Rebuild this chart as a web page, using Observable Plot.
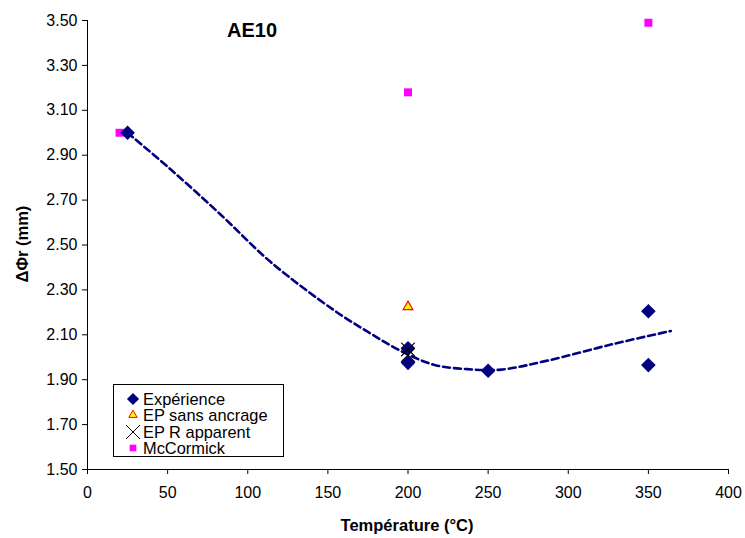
<!DOCTYPE html>
<html><head><meta charset="utf-8">
<script src="https://cdn.jsdelivr.net/npm/d3@7"></script>
<script src="https://cdn.jsdelivr.net/npm/@observablehq/plot@0.6"></script>
<style>
body{margin:0;background:#fff;font-family:"Liberation Sans",Arial,sans-serif}
#wrap{position:relative;width:745px;height:538px;overflow:hidden}
#wrap svg{display:block}
.ov{position:absolute;color:#000;white-space:nowrap}
#title{left:252px;top:30px;transform:translate(-50%,-50%);font-weight:bold;font-size:20px}
#xlab{left:407px;top:525px;transform:translate(-50%,-50%);font-weight:bold;font-size:16.5px}
#ylab{left:22px;top:244px;transform:translate(-50%,-50%) rotate(-90deg);font-weight:bold;font-size:16.5px}
#legend{left:113px;top:384px;width:169px;height:71px;border:1px solid #000;background:#fff;font-size:16.4px}
.row{position:absolute;left:0;height:16px}
.row svg{position:absolute;left:11px;top:0;display:block}
.row span{position:absolute;display:block;left:29px;top:0;height:16px;line-height:16px}
</style></head><body>
<div id="wrap"></div>
<script>
// Data
const expT = [25, 200, 200, 250, 350, 350];
const expV = [3.00, 2.04, 1.975, 1.94, 2.205, 1.965];
const epSansT = [200];
const epSansV = [2.225];
const epRT = [200, 200];
const epRV = [2.035, 2.01];
const mcT = [20, 200, 350];
const mcV = [3.00, 3.18, 3.49];
const trendT = [25, 52, 83, 114, 153.5, 175, 195, 216, 237, 258, 287, 328, 364];
const trendV = [3.00, 2.836, 2.636, 2.426, 2.211, 2.113, 2.030, 1.967, 1.947, 1.945, 1.985, 2.059, 2.117];
const xTicks = [0, 50, 100, 150, 200, 250, 300, 350, 400];
const yTicks = [1.5, 1.7, 1.9, 2.1, 2.3, 2.5, 2.7, 2.9, 3.1, 3.3, 3.5];
const seriesNames = ["Expérience", "EP sans ancrage", "EP R apparent", "McCormick"];

const zip = (a, b) => a.map((x, i) => ({x, y: b[i]}));
const exp = zip(expT, expV), epSans = zip(epSansT, epSansV), epR = zip(epRT, epRV),
      mc = zip(mcT, mcV), trend = zip(trendT, trendV);

const navy = "#000080", magenta = "#ff00ff";

const chart = Plot.plot({
  width: 745, height: 538,
  marginLeft: 87, marginRight: 17, marginTop: 20, marginBottom: 69,
  style: {fontFamily: '"Liberation Sans", Arial, sans-serif', fontSize: "16px", color: "#000", background: "#fff"},
  x: {domain: [0, 400]},
  y: {domain: [1.5, 3.5]},
  marks: [
    Plot.axisX({ticks: xTicks, tickSize: 5, tickPadding: 12, label: null, tickFormat: d3.format("d")}),
    Plot.axisY({ticks: yTicks, tickSize: 5, tickPadding: 5, label: null, tickFormat: d3.format(".2f")}),
    Plot.ruleX([0], {stroke: "#000"}),
    Plot.ruleY([1.5], {stroke: "#000"}),
    Plot.line(trend, {x: "x", y: "y", curve: "catmull-rom", stroke: navy, strokeWidth: 2.6, strokeDasharray: "7,4"}),
    Plot.dot(mc, {x: "x", y: "y", symbol: "square", fill: magenta, r: 4.5}),
    Plot.dot(exp, {x: "x", y: "y", symbol: "diamond2", fill: navy, r: 6.6}),
    Plot.dot(epSans, {x: "x", y: "y", symbol: "triangle", fill: "#ffff00", stroke: "#ff0000", strokeWidth: 1.2, r: 3.6}),
    Plot.dot(epR, {x: "x", y: "y", symbol: "times", stroke: "#000", strokeWidth: 1.1, r: 6.3})
  ]
});
const wrap = document.getElementById("wrap");
wrap.appendChild(chart);

function ov(id, text) {
  const d = document.createElement("div");
  d.className = "ov"; d.id = id; d.textContent = text;
  wrap.appendChild(d);
  return d;
}
ov("title", "AE10");
ov("xlab", "Température (°C)");
ov("ylab", "ΔΦr (mm)");

// Legend
const legend = document.createElement("div");
legend.className = "ov"; legend.id = "legend";
wrap.appendChild(legend);
const legSyms = [
  {sym: d3.symbolDiamond2, size: 95, fill: navy, stroke: "none"},
  {sym: d3.symbolTriangle, size: 30, fill: "#ffff00", stroke: "#ff0000"},
  {sym: d3.symbolTimes, size: 130, fill: "none", stroke: "#000"},
  {sym: d3.symbolSquare, size: 44, fill: magenta, stroke: "none"}
];
seriesNames.forEach((name, i) => {
  const row = document.createElement("div");
  row.className = "row";
  row.style.top = (6 + i * 16.3) + "px";
  row.style.width = "100%";
  const s = legSyms[i];
  const path = d3.symbol(s.sym, s.size)();
  row.innerHTML = `<svg width="16" height="16" viewBox="-8 -8 16 16"><path d="${path}" fill="${s.fill}" stroke="${s.stroke}" stroke-width="1"/></svg><span></span>`;
  row.querySelector("span").textContent = name;
  legend.appendChild(row);
});
</script>
</body></html>
